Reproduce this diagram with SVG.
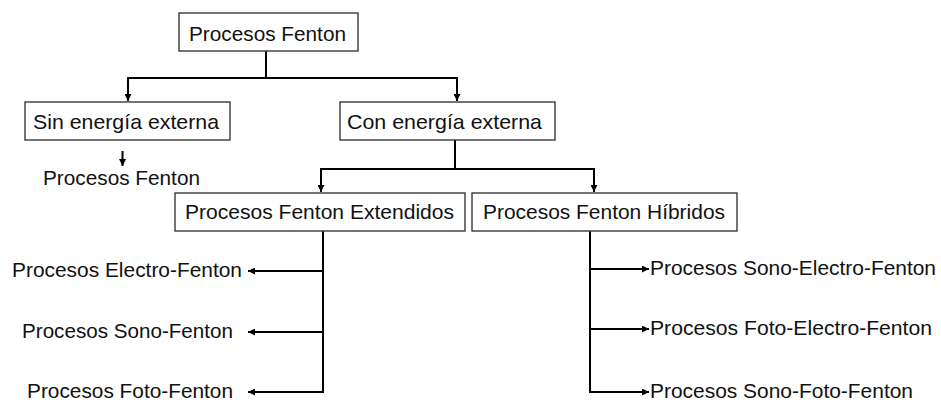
<svg xmlns="http://www.w3.org/2000/svg" width="941" height="402" viewBox="0 0 941 402">
  <style>
    .box { fill: #ffffff; stroke: #3a3a3a; stroke-width: 1.4; }
    .lbl { font-family: "Liberation Sans", Arial, sans-serif; font-size: 21px; fill: #111111; }
    .wire { fill: none; stroke: #000000; stroke-width: 2; }
    .arr { fill: none; stroke: #000000; stroke-width: 2; marker-end: url(#head); }
  </style>
  <defs>
    <marker id="head" markerUnits="userSpaceOnUse" markerWidth="8" markerHeight="7" refX="7" refY="3.5" orient="auto">
      <path d="M0,0 L7,3.5 L0,7 Z" fill="#000000"/>
    </marker>
  </defs>
  <rect width="941" height="402" fill="#ffffff"/>

  <!-- connectors -->
  <g id="connectors">
    <!-- root split -->
    <path class="wire" d="M266,51 V78 M128,78 H457"/>
    <path class="arr" d="M128,77 V101"/>
    <path class="arr" d="M457,77 V101"/>
    <!-- without external energy -->
    <path class="arr" d="M122.5,151 V166"/>
    <!-- with external energy split -->
    <path class="wire" d="M455,140 V169 M321,169 H594"/>
    <path class="arr" d="M321,168 V192"/>
    <path class="arr" d="M594,168 V192"/>
    <!-- extended branch -->
    <path class="wire" d="M323,231 V392"/>
    <path class="arr" d="M324,271 H248"/>
    <path class="arr" d="M324,332 H248"/>
    <path class="arr" d="M324,392 H248"/>
    <!-- hybrid branch -->
    <path class="wire" d="M590,231 V392"/>
    <path class="arr" d="M589,269 H649"/>
    <path class="arr" d="M589,329 H649"/>
    <path class="arr" d="M589,392 H649"/>
  </g>

  <g id="root">
    <rect class="box" x="179" y="13" width="179" height="38"/>
    <text class="lbl" x="189" y="40.5" textLength="157" lengthAdjust="spacingAndGlyphs">Procesos Fenton</text>
  </g>

  <g id="sin-energia">
    <rect class="box" x="25" y="102" width="205" height="38"/>
    <text class="lbl" x="33" y="128.5" textLength="186" lengthAdjust="spacingAndGlyphs">Sin energía externa</text>
  </g>

  <g id="sin-energia-fenton">
    <text class="lbl" x="43" y="185" textLength="157" lengthAdjust="spacingAndGlyphs">Procesos Fenton</text>
  </g>

  <g id="con-energia">
    <rect class="box" x="340" y="102" width="215" height="38"/>
    <text class="lbl" x="347" y="128.5" textLength="195" lengthAdjust="spacingAndGlyphs">Con energía externa</text>
  </g>

  <g id="extendidos">
    <rect class="box" x="175" y="193" width="290" height="38"/>
    <text class="lbl" x="185" y="219" textLength="269" lengthAdjust="spacingAndGlyphs">Procesos Fenton Extendidos</text>
  </g>

  <g id="hibridos">
    <rect class="box" x="472" y="193" width="265" height="38"/>
    <text class="lbl" x="483" y="219" textLength="242" lengthAdjust="spacingAndGlyphs">Procesos Fenton Híbridos</text>
  </g>

  <g id="electro-fenton">
    <text class="lbl" x="12" y="277" textLength="230" lengthAdjust="spacingAndGlyphs">Procesos Electro-Fenton</text>
  </g>
  <g id="sono-fenton">
    <text class="lbl" x="22" y="337.5" textLength="211" lengthAdjust="spacingAndGlyphs">Procesos Sono-Fenton</text>
  </g>
  <g id="foto-fenton">
    <text class="lbl" x="27" y="398" textLength="206" lengthAdjust="spacingAndGlyphs">Procesos Foto-Fenton</text>
  </g>

  <g id="sono-electro-fenton">
    <text class="lbl" x="650" y="274.5" textLength="286" lengthAdjust="spacingAndGlyphs">Procesos Sono-Electro-Fenton</text>
  </g>
  <g id="foto-electro-fenton">
    <text class="lbl" x="650" y="334.5" textLength="282" lengthAdjust="spacingAndGlyphs">Procesos Foto-Electro-Fenton</text>
  </g>
  <g id="sono-foto-fenton">
    <text class="lbl" x="650" y="398" textLength="263" lengthAdjust="spacingAndGlyphs">Procesos Sono-Foto-Fenton</text>
  </g>
</svg>
